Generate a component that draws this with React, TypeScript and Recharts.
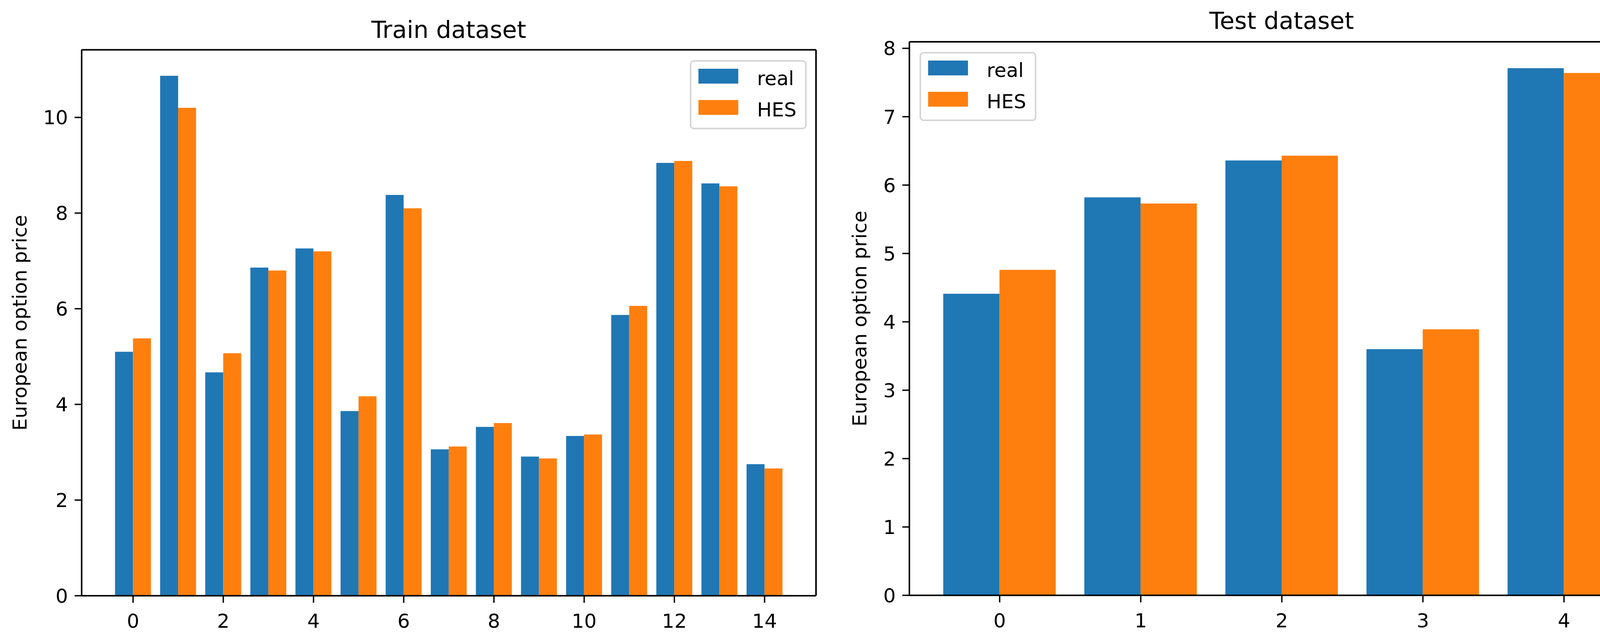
import React from 'react';
import { BarChart, Bar, XAxis, YAxis, Legend, CartesianGrid } from 'recharts';

const FONT = '"DejaVu Sans", sans-serif';
const BLUE = '#1f77b4';
const ORANGE = '#ff7f0e';

// values
const seriesNames = ['real', 'HES'];

const trainLabels = ['0', '1', '2', '3', '4', '5', '6', '7', '8', '9', '10', '11', '12', '13', '14'];
const trainReal = [5.10, 10.87, 4.67, 6.86, 7.26, 3.86, 8.38, 3.06, 3.53, 2.91, 3.34, 5.87, 9.05, 8.62, 2.75];
const trainHes = [5.38, 10.20, 5.07, 6.80, 7.20, 4.17, 8.10, 3.12, 3.61, 2.87, 3.37, 6.06, 9.09, 8.56, 2.66];
const trainTicks = [0, 2, 4, 6, 8, 10];

const testLabels = ['0', '1', '2', '3', '4'];
const testReal = [4.41, 5.82, 6.36, 3.60, 7.71];
const testHes = [4.76, 5.73, 6.43, 3.89, 7.64];
const testTicks = [0, 1, 2, 3, 4, 5, 6, 7, 8];

const toRows = (labels: string[], real: number[], hes: number[]) =>
  labels.map((label, i) => ({ label, real: real[i], hes: hes[i] }));

const trainData = toRows(trainLabels, trainReal, trainHes);
const testData = toRows(testLabels, testReal, testHes);

// matplotlib-like limits: 5% margin on top, bars of width 0.4 side by side
const topOf = (a: number[], b: number[]) => Math.max(...a, ...b) * 1.05;
const sidePad = (n: number, plotW: number) => {
  const unit = plotW / ((n - 0.2) * 1.1);
  return (0.4 + 0.05 * (n - 0.2) - 0.5) * unit;
};

const tickStyle = { fontSize: 50, fill: '#000', fontFamily: FONT };
const lineStyle = { stroke: '#000', strokeWidth: 4 };
const tickLineStyle = { stroke: '#000', strokeWidth: 3.5 };

// frame lines on all four sides of the plot, like matplotlib spines
const frameRows = ({ offset }: any) => [offset.top, offset.top + offset.height];
const frameCols = ({ offset }: any) => [offset.left, offset.left + offset.width];

const SideTitle = ({ viewBox, baseX }: any) => {
  const x = viewBox.x + baseX;
  const y = viewBox.y + viewBox.height / 2;
  return (
    <text
      x={x}
      y={y}
      transform={`rotate(-90, ${x}, ${y})`}
      textAnchor="middle"
      fontSize={50}
      fontFamily={FONT}
      fill="#000"
    >
      European option price
    </text>
  );
};

const LegendBox = ({ payload }: any) => {
  const items = [...(payload || [])].sort(
    (a: any, b: any) => seriesNames.indexOf(a.value) - seriesNames.indexOf(b.value)
  );
  return (
    <div
      style={{
        position: 'relative',
        width: 299,
        height: 177,
        boxSizing: 'border-box',
        border: '4px solid #d6d6d6',
        borderRadius: 10,
        background: '#fff',
        fontFamily: FONT,
        fontSize: 50,
        color: '#000',
      }}
    >
      {items.map((entry: any, i: number) => (
        <React.Fragment key={entry.value}>
          <div
            style={{
              position: 'absolute',
              left: 18,
              top: 18 + i * 80,
              width: 102,
              height: 38,
              background: entry.color,
            }}
          />
          <div
            style={{
              position: 'absolute',
              left: 168,
              top: 18 + i * 80,
              lineHeight: '50px',
              whiteSpace: 'nowrap',
            }}
          >
            {entry.value}
          </div>
        </React.Fragment>
      ))}
    </div>
  );
};

type PanelProps = {
  data: any[];
  n: number;
  left: number;
  width: number;
  margin: { top: number; right: number; bottom: number; left: number };
  yWidth: number;
  yMax: number;
  ticks: number[];
  interval: number;
  labelX: number;
  legendPos: { left: number; top: number };
};

function Panel({ data, n, left, width, margin, yWidth, yMax, ticks, interval, labelX, legendPos }: PanelProps) {
  const plotW = width - margin.left - margin.right - yWidth;
  const pad = sidePad(n, plotW);
  return (
    <div style={{ position: 'absolute', left, top: 0 }}>
      <BarChart
        width={width}
        height={1646}
        data={data}
        margin={margin}
        barCategoryGap="10%"
        barGap={0}
      >
        <CartesianGrid
          stroke="#000"
          strokeWidth={4}
          horizontalCoordinatesGenerator={frameRows}
          verticalCoordinatesGenerator={frameCols}
        />
        <XAxis
          dataKey="label"
          height={100}
          padding={{ left: pad, right: pad }}
          interval={interval}
          tick={tickStyle}
          tickSize={18}
          tickMargin={28}
          tickLine={tickLineStyle}
          axisLine={lineStyle}
        />
        <YAxis
          width={yWidth}
          domain={[0, yMax]}
          ticks={ticks}
          tick={tickStyle}
          tickSize={18}
          tickMargin={17}
          tickLine={tickLineStyle}
          axisLine={lineStyle}
          label={<SideTitle baseX={labelX} />}
        />
        <Legend
          layout="vertical"
          align="center"
          verticalAlign="middle"
          content={<LegendBox />}
          wrapperStyle={{ left: legendPos.left, top: legendPos.top, width: 'auto' }}
        />
        <Bar dataKey="real" name="real" fill={BLUE} isAnimationActive={false} />
        <Bar dataKey="hes" name="HES" fill={ORANGE} isAnimationActive={false} />
      </BarChart>
    </div>
  );
}

export default function App() {
  return (
    <div
      style={{
        position: 'absolute',
        left: 0,
        top: 0,
        width: 4276,
        height: 1646,
        background: '#fff',
        overflow: 'hidden',
      }}
    >
      <Panel
        data={trainData}
        n={trainLabels.length}
        left={0}
        width={2138}
        margin={{ top: 127.5, right: 49, bottom: 21, left: 0 }}
        yWidth={209}
        yMax={topOf(trainReal, trainHes)}
        ticks={trainTicks}
        interval={1}
        labelX={68}
        legendPos={{ left: 1766, top: 154 }}
      />
      <Panel
        data={testData}
        n={testLabels.length}
        left={2138}
        width={2138}
        margin={{ top: 107, right: 41, bottom: 22, left: 0 }}
        yWidth={190}
        yMax={topOf(testReal, testHes)}
        ticks={testTicks}
        interval={0}
        labelX={80}
        legendPos={{ left: 216, top: 133 }}
      />
      <svg
        width={4276}
        height={1646}
        style={{ position: 'absolute', left: 0, top: 0, pointerEvents: 'none' }}
      >
        <text x={1149} y={96.7} textAnchor="middle" fontSize={61} fontFamily={FONT} fill="#000">
          Train dataset
        </text>
        <text x={3281} y={73.5} textAnchor="middle" fontSize={61} fontFamily={FONT} fill="#000">
          Test dataset
        </text>
      </svg>
    </div>
  );
}
